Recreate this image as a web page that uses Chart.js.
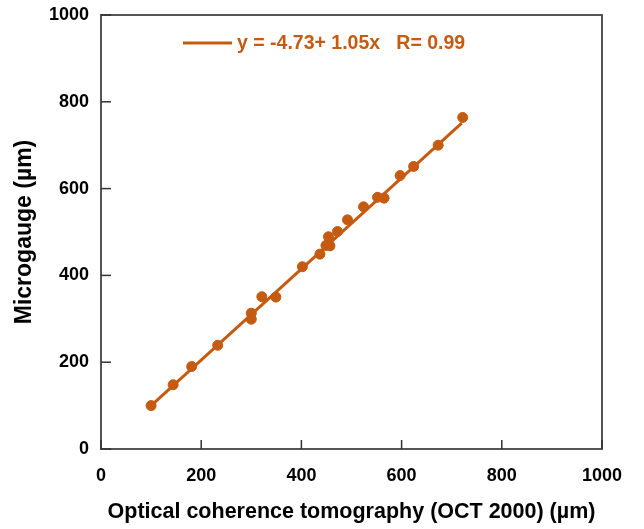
<!DOCTYPE html>
<html><head><meta charset="utf-8">
<script src="https://cdn.jsdelivr.net/npm/chart.js@4"></script>
<style>html,body{margin:0;padding:0;background:#fff}#wrap{width:644px;height:529px}</style>
</head><body><div id="wrap"><canvas id="c" width="644" height="529"></canvas></div>
<script>
const octX = [100,144,181,233,300,300,321,349,402,437,454,449,457,472,492,524,552,565,597,624,673,722];
const gaugeY = [100,148,190,239,313,299,351,350,420,449,489,469,468,501,528,558,580,578,630,651,700,764];
const fitX = [100,720];
const fitY = [100,751];
const xTicks = [0,200,400,600,800,1000];
const yTicks = [0,200,400,600,800,1000];
const legendText = 'y = -4.73+ 1.05x   R= 0.99';
const xTitle = 'Optical coherence tomography (OCT 2000) (µm)';
const yTitle = 'Microgauge (µm)';

const ORANGE = '#C55A11';
const FONT = '"Liberation Sans", Arial, sans-serif';

const framePlugin = {
  id: 'frame',
  afterDraw(chart) {
    const ctx = chart.ctx, a = chart.chartArea;
    const xs = chart.scales.x, ys = chart.scales.y;
    ctx.save();
    ctx.strokeStyle = '#555';
    ctx.lineWidth = 2;
    ctx.strokeRect(a.left, a.top, a.right - a.left, a.bottom - a.top);
    ctx.lineWidth = 1.5;
    ctx.strokeStyle = '#333';
    xs.ticks.forEach((t, i) => {
      const px = xs.getPixelForTick(i);
      ctx.beginPath(); ctx.moveTo(px, a.bottom); ctx.lineTo(px, a.bottom - 9); ctx.stroke();
    });
    ys.ticks.forEach((t, i) => {
      const py = ys.getPixelForTick(i);
      ctx.beginPath(); ctx.moveTo(a.left, py); ctx.lineTo(a.left + 10, py); ctx.stroke();
    });
    // legend
    ctx.strokeStyle = ORANGE;
    ctx.lineWidth = 3;
    ctx.beginPath(); ctx.moveTo(183, 43); ctx.lineTo(232, 43); ctx.stroke();
    ctx.fillStyle = ORANGE;
    ctx.font = 'bold 19.5px ' + FONT;
    ctx.textBaseline = 'middle';
    ctx.textAlign = 'left';
    ctx.fillText(legendText, 237, 44);
    ctx.restore();
  }
};

new Chart(document.getElementById('c'), {
  type: 'scatter',
  data: {
    datasets: [
      {
        type: 'line',
        data: fitX.map((x, i) => ({x, y: fitY[i]})),
        borderColor: ORANGE,
        borderWidth: 3,
        pointRadius: 0,
        fill: false,
        order: 2
      },
      {
        data: octX.map((x, i) => ({x, y: gaugeY[i]})),
        backgroundColor: ORANGE,
        borderColor: ORANGE,
        pointRadius: 5,
        pointHoverRadius: 5,
        order: 1
      }
    ]
  },
  options: {
    responsive: false,
    animation: false,
    devicePixelRatio: 1,
    layout: { padding: { top: 15, right: 42, left: 0, bottom: 0 } },
    plugins: { legend: { display: false }, tooltip: { enabled: false } },
    scales: {
      x: {
        type: 'linear', min: 0, max: 1000,
        afterBuildTicks: s => { s.ticks = xTicks.map(v => ({value: v})); },
        afterFit: s => { s.height = 80; s.paddingLeft = 0; s.paddingRight = 0; },
        grid: { display: false, drawTicks: false },
        border: { display: false },
        ticks: { color: '#000', padding: 16, font: { family: FONT, size: 18, weight: 'bold' }, maxRotation: 0, callback: v => String(v) },
        title: { display: true, text: xTitle, color: '#000', font: { family: FONT, size: 21.5, weight: 'bold' }, padding: { top: 10, bottom: 4 } }
      },
      y: {
        type: 'linear', min: 0, max: 1000,
        afterBuildTicks: s => { s.ticks = yTicks.map(v => ({value: v})); },
        afterFit: s => { s.width = 101; s.paddingTop = 0; s.paddingBottom = 0; },
        grid: { display: false, drawTicks: false },
        border: { display: false },
        ticks: { color: '#000', padding: 12, font: { family: FONT, size: 18, weight: 'bold' }, callback: v => String(v) },
        title: { display: true, text: yTitle, color: '#000', font: { family: FONT, size: 23, weight: 'bold' }, padding: { top: 11, bottom: 0 } }
      }
    }
  },
  plugins: [framePlugin]
});
</script></body></html>
